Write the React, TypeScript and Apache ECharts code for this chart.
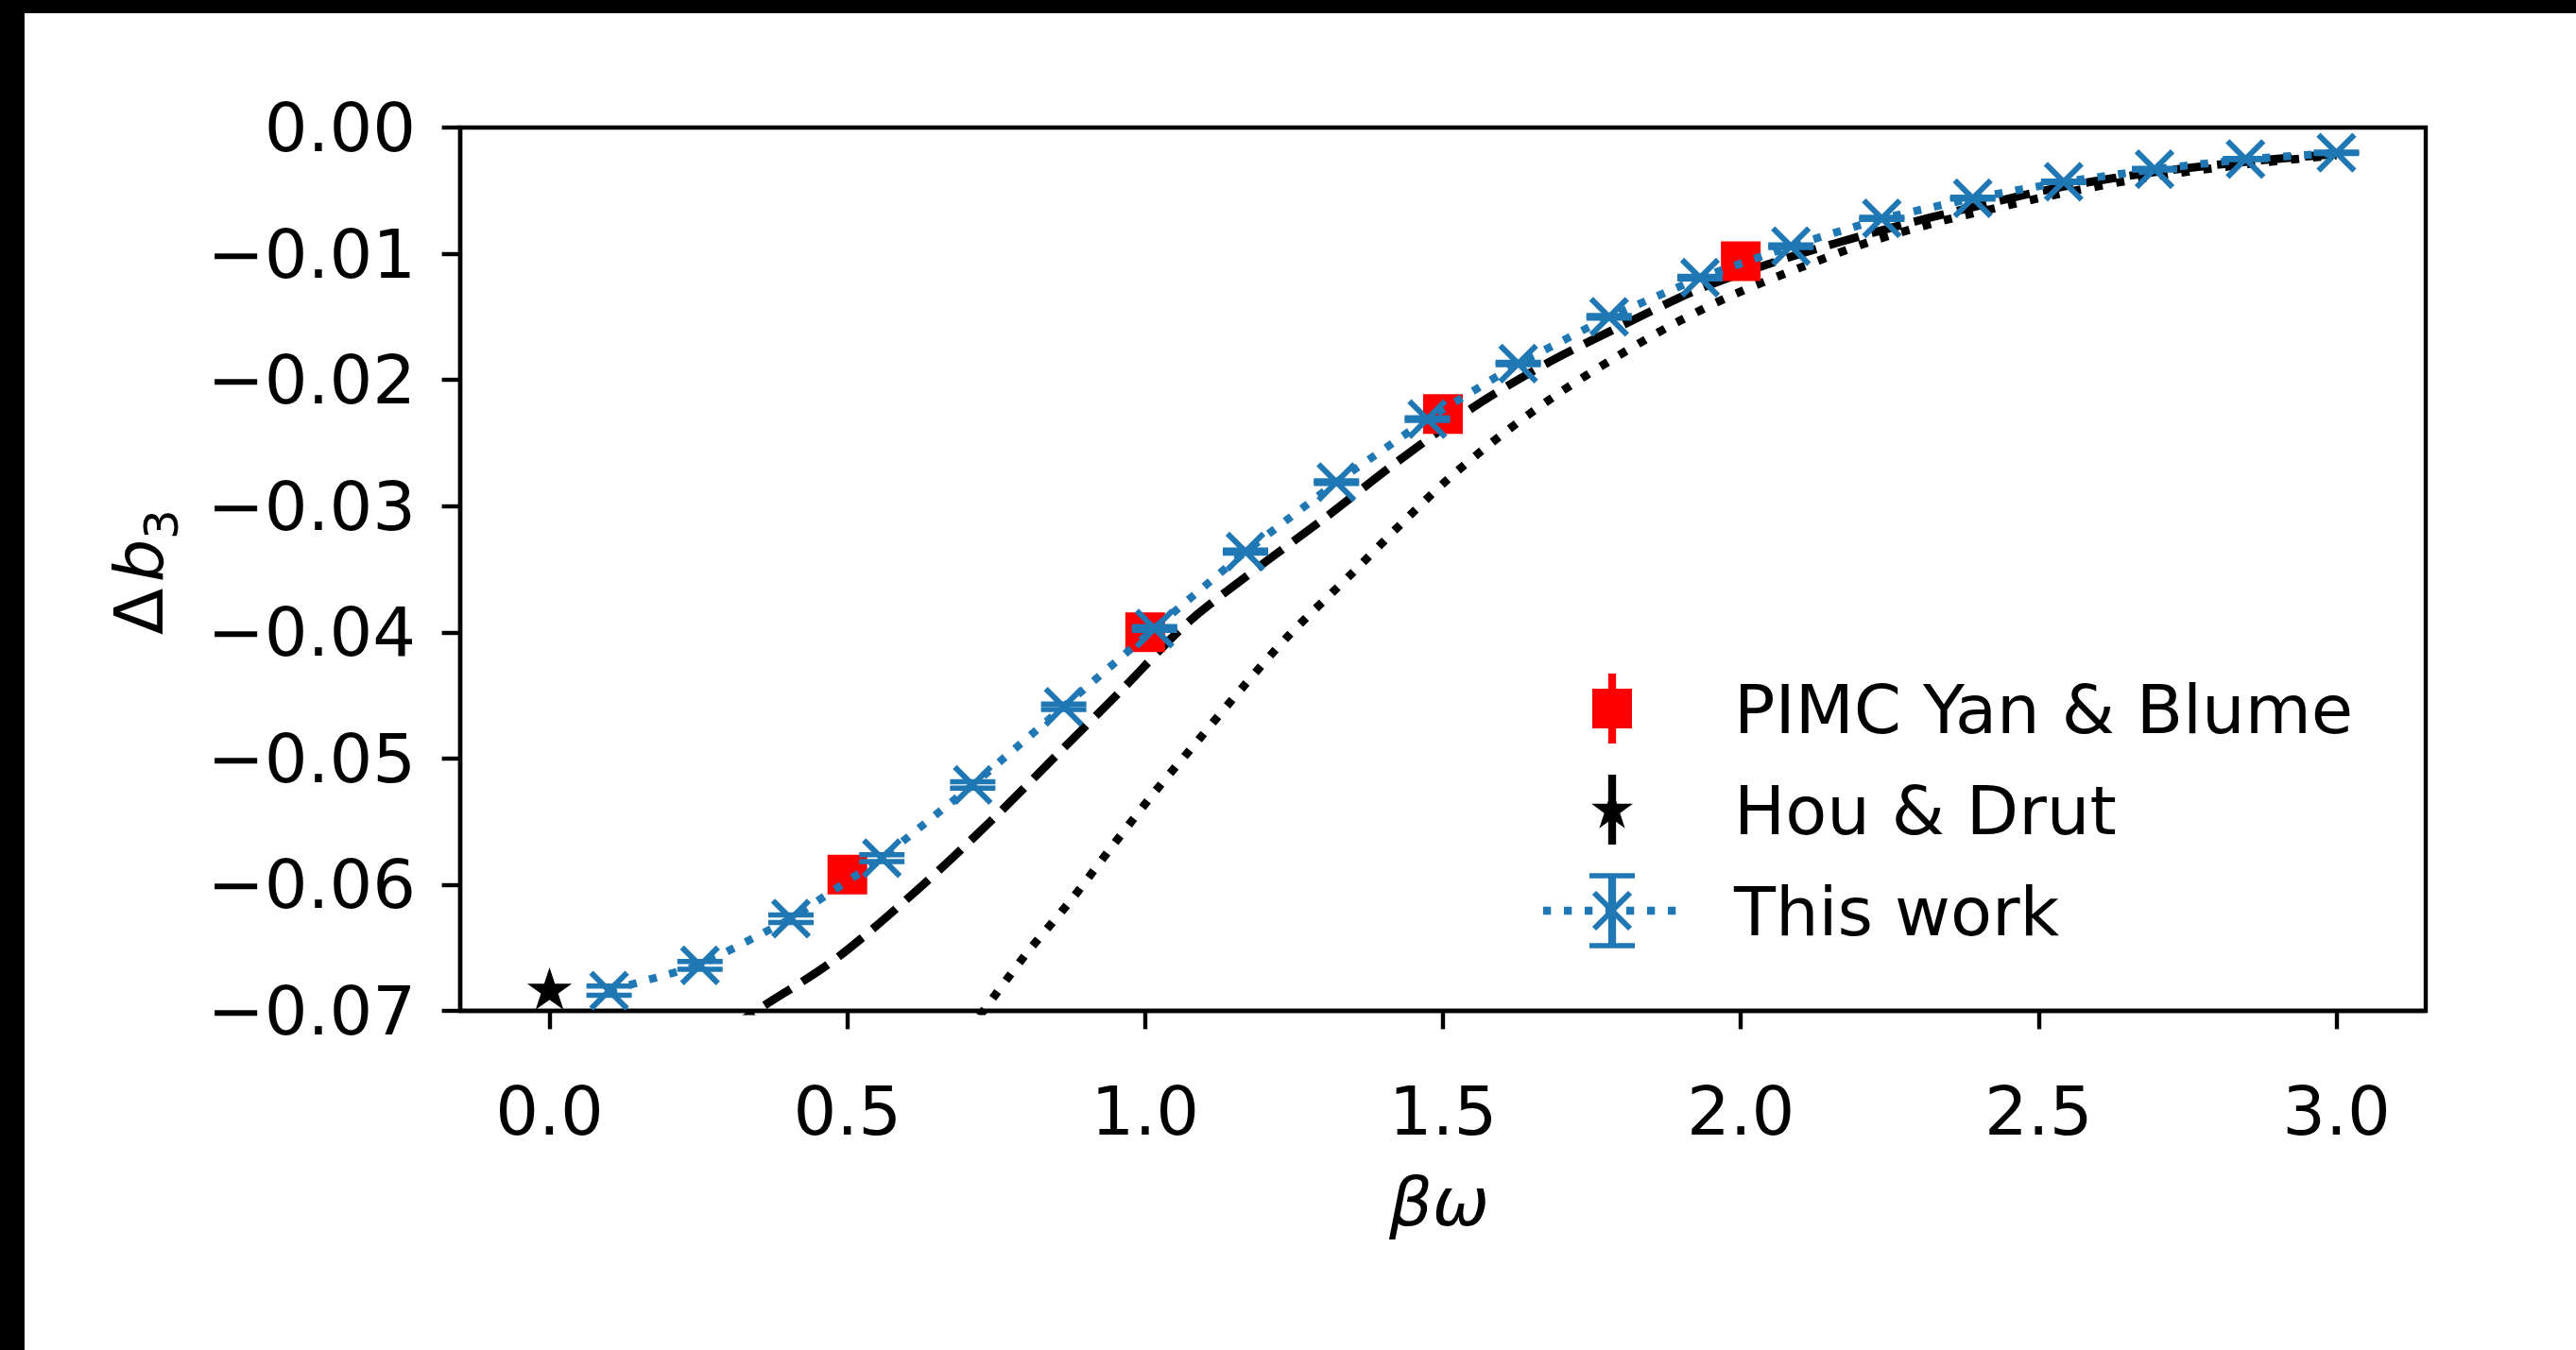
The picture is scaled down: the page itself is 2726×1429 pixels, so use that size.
import React, { useEffect, useRef } from "react";
import * as echarts from "echarts";

// ---- data ----
const xTickValues = [0, 0.5, 1.0, 1.5, 2.0, 2.5, 3.0];
const yTickValues = [-0.07, -0.06, -0.05, -0.04, -0.03, -0.02, -0.01, 0];

const thisWorkX = [0.1, 0.2526, 0.4053, 0.5579, 0.7105, 0.8632, 1.0158, 1.1684, 1.3211, 1.4737, 1.6263, 1.7789, 1.9316, 2.0842, 2.2368, 2.3895, 2.5421, 2.6947, 2.8474, 3.0];
const thisWorkY = [-0.0684, -0.0664, -0.0627, -0.0579, -0.0521, -0.0459, -0.0397, -0.0336, -0.0281, -0.0231, -0.0187, -0.015, -0.0119, -0.0094, -0.0072, -0.0056, -0.0043, -0.0033, -0.0025, -0.002];
const thisWorkErr = [0.00036, 0.00031, 0.0003, 0.00028, 0.00025, 0.00022, 0.00015, 0.00012, 0.0001, 0.0001, 0.0001, 0.0001, 0.0001, 0.0001, 0.00008, 0.00008, 0.00006, 0.00006, 0.00005, 0.00005];

const pimcX = [0.5, 1.0, 1.5, 2.0];
const pimcY = [-0.0592, -0.04, -0.0227, -0.0106];
const pimcErr = [0.0004, 0.0004, 0.0003, 0.0003];

const houX = [0.0];
const houY = [-0.0683];
const houErr = [0.0002];

const dashedX = [0.3, 0.35, 0.48, 0.625, 0.74, 0.85, 0.96, 1.07, 1.18, 1.3, 1.42, 1.55, 1.67, 1.8, 1.93, 2.08, 2.24, 2.39, 2.54, 2.7, 2.85, 3.0];
const dashedY = [-0.0715, -0.0699, -0.0659, -0.0601, -0.055, -0.0498, -0.0446, -0.0393, -0.0352, -0.031, -0.0266, -0.0222, -0.0188, -0.0157, -0.0128, -0.0103, -0.0081, -0.0063, -0.0047, -0.0035, -0.0027, -0.0021];

const dottedX = [0.7, 0.73, 0.8, 0.876, 0.944, 1.017, 1.09, 1.163, 1.24, 1.35, 1.43, 1.51, 1.6, 1.69, 1.79, 1.89, 1.99, 2.1, 2.22, 2.33, 2.39, 2.54, 2.69, 2.85, 3.0];
const dottedY = [-0.0718, -0.0699, -0.0655, -0.0612, -0.057, -0.0526, -0.0485, -0.0444, -0.0403, -0.0352, -0.0314, -0.0278, -0.0243, -0.0212, -0.0182, -0.0155, -0.0132, -0.0111, -0.009, -0.0075, -0.0068, -0.0052, -0.0039, -0.0029, -0.0022];

const legendLabels = ["PIMC Yan & Blume", "Hou & Drut", "This work"];

// ---- styles ----
const BLUE = "#1f77b4";
const RED = "#ff0000";
const FONT = "DejaVu Sans";
const LW = 8.3;
const BLK_LW = 8.8;
const MEW = 6;
const STAR_PATH =
  "path://M0,-1 L0.2245,-0.309 L0.951,-0.309 L0.363,0.118 L0.588,0.809 L0,0.382 L-0.588,0.809 L-0.363,0.118 L-0.951,-0.309 L-0.2245,-0.309 Z";

function starPoints(cx: number, cy: number, r: number) {
  const pts: number[][] = [];
  for (let i = 0; i < 10; i++) {
    const a = -Math.PI / 2 + (i * Math.PI) / 5;
    const rr = i % 2 === 0 ? r : r * 0.382;
    pts.push([cx + rr * Math.cos(a), cy + rr * Math.sin(a)]);
  }
  return pts;
}

function fmtY(v: number) {
  if (Math.abs(v) < 1e-9) return "0.00";
  return (v < 0 ? "\u2212" : "") + Math.abs(v).toFixed(2);
}

export default function App() {
  const ref = useRef<HTMLDivElement>(null);
  useEffect(() => {
    if (!ref.current) return;
    const chart = echarts.init(ref.current, null, { renderer: "svg", width: 2726, height: 1429 });

    const blueData = thisWorkX.map((x, i) => [x, thisWorkY[i], thisWorkErr[i]]);
    const pimcData = pimcX.map((x, i) => [x, pimcY[i], pimcErr[i]]);
    const houData = houX.map((x, i) => [x, houY[i], houErr[i]]);

    const errRender = (color: string, capHalf: number, withX: boolean) => (params: any, api: any) => {
      const x = api.value(0);
      const y = api.value(1);
      const e = api.value(2);
      const c = api.coord([x, y]);
      const t = api.coord([x, y + e]);
      const b = api.coord([x, y - e]);
      const children: any[] = [
        { type: "line", shape: { x1: t[0], y1: t[1], x2: b[0], y2: b[1] }, style: { stroke: color, lineWidth: LW } },
      ];
      if (capHalf > 0) {
        children.push(
          { type: "line", shape: { x1: t[0] - capHalf, y1: t[1], x2: t[0] + capHalf, y2: t[1] }, style: { stroke: color, lineWidth: 5.5 } },
          { type: "line", shape: { x1: b[0] - capHalf, y1: b[1], x2: b[0] + capHalf, y2: b[1] }, style: { stroke: color, lineWidth: 5.5 } }
        );
      }
      if (withX) {
        const m = 19;
        children.push(
          { type: "line", shape: { x1: c[0] - m, y1: c[1] - m, x2: c[0] + m, y2: c[1] + m }, style: { stroke: color, lineWidth: MEW } },
          { type: "line", shape: { x1: c[0] - m, y1: c[1] + m, x2: c[0] + m, y2: c[1] - m }, style: { stroke: color, lineWidth: MEW } }
        );
      }
      return { type: "group", children };
    };

    const legendRows = [750, 857, 964];
    const hx = 1706;
    const textX = 1835;

    const graphics: any[] = [
      { type: "rect", shape: { x: 0, y: 0, width: 26, height: 1429 }, style: { fill: "#000" }, z: 100 },
      { type: "rect", shape: { x: 0, y: 0, width: 2726, height: 14 }, style: { fill: "#000" }, z: 100 },
      // legend: PIMC
      { type: "line", shape: { x1: hx, y1: legendRows[0] - 37, x2: hx, y2: legendRows[0] + 37 }, style: { stroke: RED, lineWidth: LW } },
      { type: "rect", shape: { x: hx - 21, y: legendRows[0] - 21, width: 42, height: 42 }, style: { fill: RED } },
      // legend: Hou & Drut
      { type: "line", shape: { x1: hx, y1: legendRows[1] - 37, x2: hx, y2: legendRows[1] + 37 }, style: { stroke: "#000", lineWidth: LW } },
      { type: "polygon", shape: { points: starPoints(hx, legendRows[1] + 1, 15) }, style: { fill: "#000", stroke: "#000", lineWidth: 5, lineJoin: "miter" } },
      // legend: This work
      { type: "line", shape: { x1: 1633, y1: legendRows[2], x2: 1779, y2: legendRows[2] }, style: { stroke: BLUE, lineWidth: LW, lineDash: [LW, LW * 1.65] } },
      { type: "line", shape: { x1: hx, y1: legendRows[2] - 37, x2: hx, y2: legendRows[2] + 37 }, style: { stroke: BLUE, lineWidth: LW } },
      { type: "line", shape: { x1: hx - 24, y1: legendRows[2] - 37, x2: hx + 24, y2: legendRows[2] - 37 }, style: { stroke: BLUE, lineWidth: 5.5 } },
      { type: "line", shape: { x1: hx - 24, y1: legendRows[2] + 37, x2: hx + 24, y2: legendRows[2] + 37 }, style: { stroke: BLUE, lineWidth: 5.5 } },
      { type: "line", shape: { x1: hx - 19, y1: legendRows[2] - 19, x2: hx + 19, y2: legendRows[2] + 19 }, style: { stroke: BLUE, lineWidth: MEW } },
      { type: "line", shape: { x1: hx - 19, y1: legendRows[2] + 19, x2: hx + 19, y2: legendRows[2] - 19 }, style: { stroke: BLUE, lineWidth: MEW } },
      ...legendLabels.map((t, i) => ({
        type: "text",
        x: textX,
        y: legendRows[i] + 1,
        style: { text: t, fontSize: 72, fontFamily: FONT, fill: "#000", align: "left", verticalAlign: "middle" },
      })),
      // x axis name
      {
        type: "text",
        x: 1523,
        y: 1272,
        style: { text: "βω", fontSize: 72, fontFamily: FONT, fontStyle: "italic", fill: "#000", align: "center", verticalAlign: "middle" },
      },
      // y axis name (rotated)
      {
        type: "group",
        x: 147,
        y: 672,
        rotation: Math.PI / 2,
        children: [
          { type: "text", x: 0, y: 0, style: { text: "Δ", fontSize: 72, fontFamily: FONT, fill: "#000", align: "left", verticalAlign: "middle" } },
          { type: "text", x: 55.7, y: 0, style: { text: "b", fontSize: 72, fontFamily: FONT, fontStyle: "italic", fill: "#000", align: "left", verticalAlign: "middle" } },
          { type: "text", x: 101, y: 23.5, style: { text: "3", fontSize: 50, fontFamily: FONT, fill: "#000", align: "left", verticalAlign: "middle" } },
        ],
      },
    ];

    chart.setOption({
      animation: false,
      backgroundColor: "#ffffff",
      textStyle: { fontFamily: FONT },
      grid: {
        left: 487,
        top: 135,
        width: 2080,
        height: 935,
        containLabel: false,
        outerBoundsMode: "none",
        show: true,
        borderColor: "#000",
        borderWidth: 4.4,
        backgroundColor: "transparent",
      },
      xAxis: {
        type: "value",
        min: -0.15,
        max: 3.15,
        axisLine: { show: true, onZero: false, lineStyle: { color: "#000", width: 4.4 } },
        axisTick: { show: true, customValues: xTickValues, length: 19.4, lineStyle: { color: "#000", width: 4.4 } },
        axisLabel: {
          customValues: xTickValues,
          formatter: (v: number) => v.toFixed(1),
          fontSize: 72,
          fontFamily: FONT,
          color: "#000",
          margin: 70,
        },
        splitLine: { show: false },
      },
      yAxis: {
        type: "value",
        min: -0.07,
        max: 0,
        axisLine: { show: true, onZero: false, lineStyle: { color: "#000", width: 4.4 } },
        axisTick: { show: true, customValues: yTickValues, length: 19.4, lineStyle: { color: "#000", width: 4.4 } },
        axisLabel: {
          customValues: yTickValues,
          formatter: fmtY,
          fontSize: 72,
          fontFamily: FONT,
          color: "#000",
          margin: 47,
        },
        splitLine: { show: false },
      },
      graphic: graphics,
      series: [
        {
          type: "line",
          name: "dashed",
          data: dashedX.map((x, i) => [x, dashedY[i]]),
          showSymbol: false,
          symbol: "none",
          smooth: 0.3,
          clip: true,
          z: 1,
          lineStyle: { color: "#000", width: BLK_LW, type: [BLK_LW * 3.7, BLK_LW * 1.6], cap: "butt" },
        },
        {
          type: "line",
          name: "dotted",
          data: dottedX.map((x, i) => [x, dottedY[i]]),
          showSymbol: false,
          symbol: "none",
          smooth: 0.3,
          clip: true,
          z: 1,
          lineStyle: { color: "#000", width: BLK_LW, type: [BLK_LW, BLK_LW * 1.65], cap: "butt" },
        },
        {
          type: "custom",
          name: "pimcErr",
          data: pimcData,
          encode: { x: 0, y: 1 },
          renderItem: errRender(RED, 0, false),
          z: 2,
        },
        {
          type: "scatter",
          name: legendLabels[0],
          data: pimcData.map((d) => [d[0], d[1]]),
          symbol: "rect",
          symbolSize: 42,
          itemStyle: { color: RED, opacity: 1 },
          z: 3,
        },
        {
          type: "custom",
          name: "houErr",
          data: houData,
          encode: { x: 0, y: 1 },
          renderItem: errRender("#000", 0, false),
          z: 2,
        },
        {
          type: "scatter",
          name: legendLabels[1],
          data: houData.map((d) => [d[0], d[1]]),
          symbol: STAR_PATH,
          symbolSize: [32, 30],
          itemStyle: { color: "#000", borderColor: "#000", borderWidth: 5, borderJoin: "miter", opacity: 1 },
          z: 3,
        },
        {
          type: "line",
          name: legendLabels[2],
          data: blueData.map((d) => [d[0], d[1]]),
          showSymbol: false,
          symbol: "none",
          clip: true,
          z: 4,
          lineStyle: { color: BLUE, width: LW, type: [LW, LW * 1.65], cap: "butt" },
        },
        {
          type: "custom",
          name: "thisWorkErr",
          data: blueData,
          encode: { x: 0, y: 1 },
          renderItem: errRender(BLUE, 24, true),
          z: 5,
        },
      ],
    });
    return () => chart.dispose();
  }, []);

  return (
    <div
      ref={ref}
      style={{ position: "fixed", left: 0, top: 0, width: 2726, height: 1429, background: "#fff" }}
    />
  );
}
